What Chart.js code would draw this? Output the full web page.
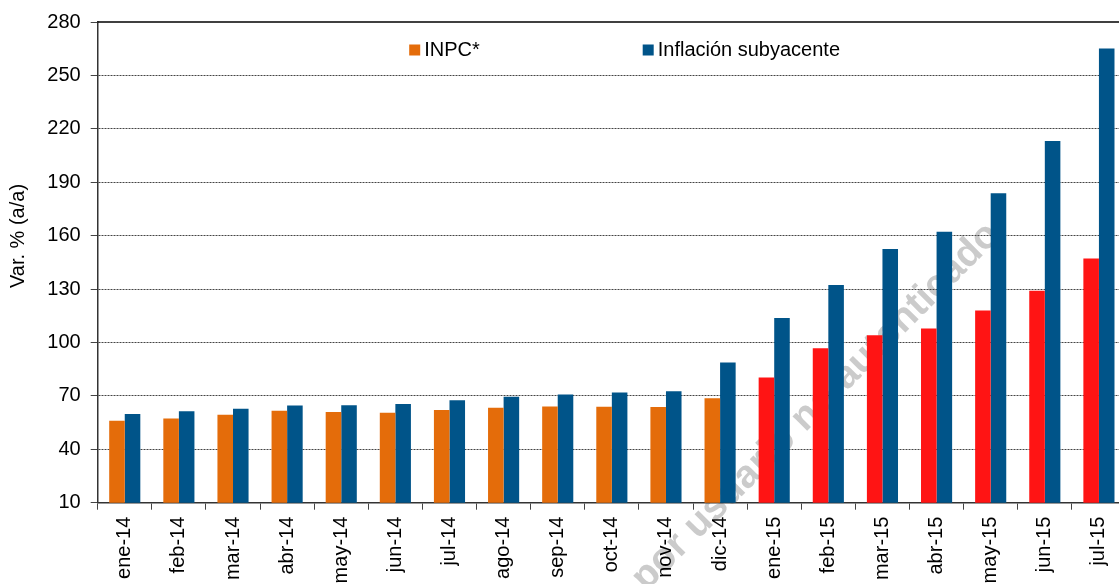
<!DOCTYPE html>
<html>
<head>
<meta charset="utf-8">
<script src="https://cdn.jsdelivr.net/npm/chart.js@4/dist/chart.umd.min.js"></script>
<style>
    html, body { margin: 0; padding: 0; background: #fff; overflow: hidden; }
    #wrap { width: 1130px; height: 584px; }
</style>
</head>
<body>
<div id="wrap"><canvas id="chart"></canvas></div>
<script>
const meses = [
    "ene-14", "feb-14", "mar-14", "abr-14", "may-14", "jun-14", "jul-14",
    "ago-14", "sep-14", "oct-14", "nov-14", "dic-14",
    "ene-15", "feb-15", "mar-15", "abr-15", "may-15", "jun-15", "jul-15",
];
const inpc = [56.0, 57.3, 59.4, 61.6, 60.9, 60.5, 62.0, 63.3, 64.1, 63.9, 63.7, 68.7,
    80.3, 96.7, 104.0, 107.9, 118.0, 129.1, 147.2];
const subyacente = [59.8, 61.3, 62.7, 64.6, 64.8, 65.4, 67.6, 69.5, 70.8, 71.9, 72.6, 88.7,
    113.8, 132.3, 152.5, 162.2, 183.8, 213.1, 265.1];
const yTicks = [10, 40, 70, 100, 130, 160, 190, 220, 250, 280];
const tituloY = "Var. % (a/a)";
const marcaAgua = "por usuario no autenticado";

const naranja = "#E46C0A";
const rojo = "#FF1414";
const azul = "#005489";
const fuente = '"Liberation Sans", Arial, sans-serif';

// leyenda, titulo del eje, linea superior y marca de agua
const extras = {
    id: "extras",
    beforeDraw(chart) {
        const ctx = chart.ctx;
        ctx.save();
        ctx.translate(646, 592);
        ctx.rotate(-Math.PI / 4);
        ctx.font = "bold 39px " + fuente;
        ctx.fillStyle = "#cbcbcb";
        ctx.fillText(marcaAgua, 0, 0);
        ctx.restore();
    },
    afterDraw(chart) {
        const ctx = chart.ctx;
        const a = chart.chartArea;
        ctx.save();
        // linea superior
        ctx.strokeStyle = "#000";
        ctx.lineWidth = 1.5;
        ctx.beginPath();
        ctx.moveTo(a.left, a.top);
        ctx.lineTo(a.right, a.top);
        ctx.stroke();

        // leyenda
        ctx.font = "20px " + fuente;
        ctx.textBaseline = "middle";
        ctx.fillStyle = "#000";
        const colores = [naranja, azul];
        chart.data.datasets.forEach((ds, i) => {
            const x = a.left + 311.5 + i * 233.5;
            const y = a.top + 28;
            ctx.fillStyle = colores[i];
            ctx.fillRect(x, y - 5.5, 11, 11);
            ctx.fillStyle = "#000";
            ctx.fillText(ds.label, x + 15, y);
        });

        // titulo eje y
        ctx.translate(18, 236);
        ctx.rotate(-Math.PI / 2);
        ctx.textAlign = "center";
        ctx.fillText(tituloY, 0, 0);
        ctx.restore();
    },
};

var ctx = document.querySelector("#chart").getContext("2d");
var chart = new Chart(ctx, {
    type: "bar",
    data: {
        labels: meses,
        datasets: [
            {
                label: "INPC*",
                data: inpc,
                backgroundColor: meses.map((m) => (m.endsWith("-15") ? rojo : naranja)),
            },
            {
                label: "Inflación subyacente",
                data: subyacente,
                backgroundColor: azul,
            },
        ],
    },
    options: {
        responsive: true,
        maintainAspectRatio: false,
        animation: false,
        layout: { padding: { top: 20, right: 2.5, bottom: 0, left: 0 } },
        datasets: {
            bar: { barPercentage: 1, categoryPercentage: 0.575 },
        },
        scales: {
            x: {
                afterFit: (s) => { s.height = 81.3; },
                ticks: {
                    minRotation: 90,
                    maxRotation: 90,
                    autoSkip: false,
                    color: "#000",
                    padding: 7,
                    font: { size: 20, family: fuente },
                },
                grid: { drawOnChartArea: false, tickLength: 7, tickColor: "#444", offset: true },
                border: { color: "#333", width: 1.5 },
            },
            y: {
                min: 10,
                max: 280,
                afterFit: (s) => { s.width = 97.7; },
                afterBuildTicks: (s) => { s.ticks = yTicks.map((v) => ({ value: v })); },
                ticks: {
                    color: "#000",
                    padding: 10,
                    font: { size: 20, family: fuente },
                },
                grid: {
                    color: (c) => (c.tick && (c.tick.value === 10 || c.tick.value === 280) ? "rgba(0,0,0,0)" : "#444"),
                    lineWidth: 1,
                    tickLength: 7,
                    tickColor: "#444",
                },
                border: { color: "#333", width: 1.5, dash: [2, 1] },
            },
        },
        plugins: {
            legend: { display: false },
            tooltip: { enabled: false },
        },
    },
    plugins: [extras],
});
</script>
</body>
</html>
